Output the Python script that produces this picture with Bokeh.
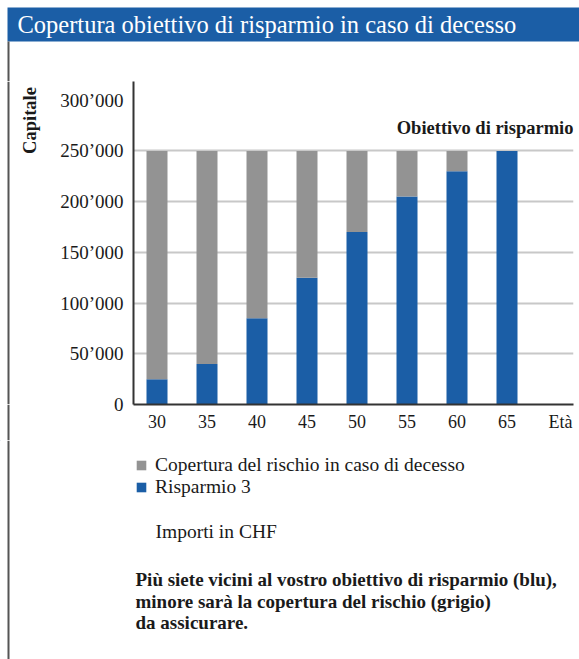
import math
from bokeh.plotting import figure
from bokeh.layouts import column, row
from bokeh.models import (FixedTicker, Label, BoxAnnotation, Legend, LegendItem,
                          ColumnDataSource, Range1d)
from bokeh.embed import file_html
from bokeh.resources import INLINE

# ---- data ----
ages = [30, 35, 40, 45, 50, 55, 60, 65]
risparmio = [25000, 40000, 85000, 125000, 170000, 205000, 230000, 250000]
obiettivo = 250000
copertura = [obiettivo - r for r in risparmio]
y_ticks = [0, 50000, 100000, 150000, 200000, 250000, 300000]
y_tick_labels = ["0", "50’000", "100’000", "150’000", "200’000", "250’000", "300’000"]
grid_ticks = [50000, 100000, 150000, 200000, 250000]
eta_pos = 70.35
x_ticks = ages + [eta_pos]
x_tick_labels = [str(a) for a in ages] + ["Età"]

title_text = "Copertura obiettivo di risparmio in caso di decesso"
legend_labels = ["Copertura del rischio in caso di decesso", "Risparmio 3"]
unit_text = "Importi in CHF"
note_lines = ["Più siete vicini al vostro obiettivo di risparmio (blu),",
              "minore sarà la copertura del rischio (grigio)",
              "da assicurare."]

# ---- style ----
FONT = "Liberation Serif"
BLUE = "#1b5ea6"
GRAY = "#939393"
TXT = "#1a1a1a"
LINE = "#555555"
W, H = 579, 659
TOP_H = 81          # title strip height
FRAME_L, FRAME_R, FRAME_B = 133, 573, 404
MID_H = 359         # chart strip height
FRAME_H = FRAME_B - TOP_H
BOT_H = H - TOP_H - MID_H
LEFT_W = 50         # left strip with "Capitale"


def blank(width, height):
    f = figure(width=width, height=height, output_backend="svg", toolbar_location=None,
               x_range=Range1d(0, width), y_range=Range1d(height, 0),
               x_axis_location=None, y_axis_location=None, min_border=0)
    f.grid.visible = False
    f.outline_line_color = None
    f.title.visible = False
    f.background_fill_color = "white"
    f.border_fill_color = "white"
    return f


def border_line(f, top, bottom):
    f.add_layout(BoxAnnotation(left=7, right=9, top=top, bottom=bottom,
                               fill_color=LINE, fill_alpha=1, line_color=None))


def lab(text, x, y, size, bold=False, color=TXT, align="left", angle=0.0):
    return Label(x=x, y=y, text=text, text_font=FONT, text_font_size=f"{size}px",
                 text_font_style="bold" if bold else "normal",
                 text_color=color, text_align=align, text_baseline="middle",
                 angle=angle)


# ---- top strip: title band ----
top = blank(W, TOP_H)
top.add_layout(BoxAnnotation(left=7, right=W, top=7, bottom=41,
                             fill_color=BLUE, fill_alpha=1, line_color=None))
top.add_layout(lab(title_text, 17, 24, 24.5, color="white"))
border_line(top, 41, TOP_H)

# ---- left strip: border + axis title ----
left1 = blank(LEFT_W, FRAME_H)
border_line(left1, 0, FRAME_H)
left1.add_layout(lab("Capitale", 29, 39, 18.5, bold=True, align="center", angle=math.pi / 2))
left2 = blank(LEFT_W, MID_H - FRAME_H)
border_line(left2, 0, MID_H - FRAME_H)

# ---- chart ----
p = figure(width=W - LEFT_W, height=MID_H, output_backend="svg", toolbar_location=None,
           x_range=Range1d(27.65, 71.65), y_range=Range1d(0, 318500),
           min_border_left=FRAME_L - LEFT_W, min_border_right=W - FRAME_R,
           min_border_top=0, min_border_bottom=MID_H - FRAME_H)
p.title.visible = False
p.outline_line_color = None
p.background_fill_color = "white"
p.border_fill_color = "white"

src = ColumnDataSource(dict(age=ages, risparmio=risparmio, copertura=copertura))
rs = p.vbar_stack(["risparmio", "copertura"], x="age", width=2.1, source=src,
                  fill_color=[BLUE, GRAY], line_color=None)

p.yaxis.ticker = FixedTicker(ticks=y_ticks)
p.yaxis.major_label_overrides = {t: l for t, l in zip(y_ticks, y_tick_labels)}
p.xaxis.ticker = FixedTicker(ticks=x_ticks)
p.xaxis.major_label_overrides = {t: l for t, l in zip(x_ticks, x_tick_labels)}
for ax in (p.xaxis[0], p.yaxis[0]):
    ax.axis_line_width = 2
    ax.axis_line_color = "#333333"
    ax.major_tick_line_color = None
    ax.minor_tick_line_color = None
    ax.major_tick_out = 0
    ax.major_tick_in = 0
    ax.minor_tick_out = 0
    ax.minor_tick_in = 0
    ax.major_label_text_font = FONT
    ax.major_label_text_color = TXT
p.yaxis.major_label_text_font_size = "19px"
p.xaxis.major_label_text_font_size = "18px"
p.yaxis.major_label_standoff = 10
p.xaxis.major_label_standoff = 7

p.xgrid.visible = False
p.ygrid.ticker = FixedTicker(ticks=grid_ticks)
p.ygrid.grid_line_color = "#c8c8c8"
p.ygrid.grid_line_width = 2

p.add_layout(Label(x=FRAME_R - FRAME_L, y=FRAME_B - 127,
                   x_units="screen", y_units="screen",
                   text="Obiettivo di risparmio", text_font=FONT,
                   text_font_size="18.5px", text_font_style="bold", text_color=TXT,
                   text_align="right", text_baseline="middle"))

# ---- bottom strip: legend + notes ----
bot = blank(W, BOT_H)
border_line(bot, 0, BOT_H)
# legend keys: off-canvas swatches carrying the series colours
g_gray = bot.vbar(x=[-100], top=[-100], bottom=[-110], width=1, fill_color=GRAY, line_color=None)
g_blue = bot.vbar(x=[-100], top=[-100], bottom=[-110], width=1, fill_color=BLUE, line_color=None)
legend = Legend(items=[LegendItem(label=legend_labels[0], renderers=[g_gray]),
                       LegendItem(label=legend_labels[1], renderers=[g_blue])],
                location=(135, 161), glyph_width=12, glyph_height=12,
                label_standoff=8, padding=0, margin=0, spacing=-1,
                label_height=12, border_line_color=None, background_fill_alpha=0,
                label_text_font=FONT, label_text_font_size="19.5px",
                label_text_color=TXT)
bot.add_layout(legend)
bot.add_layout(lab(unit_text, 155, 91, 19.5))
for i, line in enumerate(note_lines):
    bot.add_layout(lab(line, 135, 139 + 21.5 * i, 19, bold=True))

layout = column(top, row(column(left1, left2), p), bot)
open("out.html", "w").write(file_html(layout, INLINE))
